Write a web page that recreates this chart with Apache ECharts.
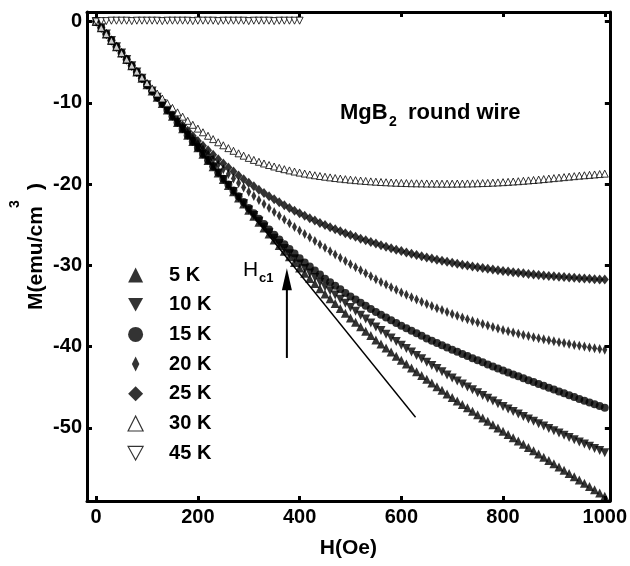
<!DOCTYPE html>
<html>
<head>
<meta charset="utf-8">
<script src="https://cdn.jsdelivr.net/npm/echarts@6/dist/echarts.min.js"></script>
<style>
html,body{margin:0;padding:0;background:#fff;}
#main{width:630px;height:566px;}
</style>
</head>
<body>
<div id="main"></div>
<script>
// ---- data (H in Oe, M in emu/cm^3) ----
const fieldOe = [0,10,20,30,40,50,60,70,80,90,100,110,120,130,140,150,160,170,180,190,200,
210,220,230,240,250,260,270,280,290,300,310,320,330,340,350,360,370,380,390,400,
410,420,430,440,450,460,470,480,490,500,510,520,530,540,550,560,570,580,590,600,
610,620,630,640,650,660,670,680,690,700,710,720,730,740,750,760,770,780,790,800,
810,820,830,840,850,860,870,880,890,900,910,920,930,940,950,960,970,980,990,1000];

const m5K = [0,-0.78,-1.55,-2.33,-3.11,-3.89,-4.66,-5.44,-6.22,-6.99,-7.77,
-8.55,-9.32,-10.10,-10.88,-11.66,-12.43,-13.21,-13.99,-14.76,-15.54,
-16.32,-17.09,-17.87,-18.65,-19.43,-20.19,-20.95,-21.71,-22.47,-23.23,
-23.96,-24.69,-25.42,-26.15,-26.88,-27.57,-28.26,-28.95,-29.64,-30.33,
-30.97,-31.61,-32.25,-32.89,-33.53,-34.12,-34.71,-35.30,-35.89,-36.48,
-37.02,-37.56,-38.10,-38.64,-39.18,-39.68,-40.18,-40.68,-41.18,-41.68,
-42.15,-42.62,-43.09,-43.56,-44.03,-44.48,-44.93,-45.38,-45.83,-46.28,
-46.70,-47.12,-47.54,-47.96,-48.38,-48.79,-49.20,-49.61,-50.02,-50.43,
-50.83,-51.23,-51.63,-52.03,-52.43,-52.83,-53.23,-53.63,-54.03,-54.43,
-54.83,-55.23,-55.63,-56.03,-56.43,-56.83,-57.23,-57.63,-58.03,-58.43];

const m10K = [0,-0.78,-1.55,-2.33,-3.11,-3.89,-4.66,-5.44,-6.22,-6.99,-7.77,
-8.55,-9.32,-10.10,-10.88,-11.66,-12.43,-13.21,-13.99,-14.76,-15.54,
-16.32,-17.09,-17.87,-18.65,-19.43,-20.18,-20.93,-21.68,-22.43,-23.18,
-23.88,-24.58,-25.28,-25.98,-26.68,-27.31,-27.94,-28.57,-29.20,-29.83,
-30.39,-30.95,-31.51,-32.07,-32.63,-33.14,-33.65,-34.16,-34.67,-35.18,
-35.66,-36.14,-36.62,-37.10,-37.58,-38.03,-38.48,-38.93,-39.38,-39.83,
-40.25,-40.67,-41.09,-41.51,-41.93,-42.32,-42.71,-43.10,-43.49,-43.88,
-44.24,-44.60,-44.96,-45.32,-45.68,-46.02,-46.35,-46.69,-47.02,-47.36,
-47.67,-47.98,-48.29,-48.60,-48.91,-49.20,-49.49,-49.78,-50.07,-50.36,
-50.64,-50.91,-51.19,-51.46,-51.74,-52.00,-52.27,-52.53,-52.80,-53.06];

const m15K = [0,-0.78,-1.55,-2.33,-3.11,-3.89,-4.66,-5.44,-6.22,-6.99,-7.77,
-8.55,-9.32,-10.10,-10.88,-11.66,-12.43,-13.21,-13.99,-14.76,-15.54,
-16.30,-17.06,-17.82,-18.58,-19.34,-20.06,-20.78,-21.50,-22.22,-22.94,
-23.60,-24.26,-24.92,-25.58,-26.24,-26.82,-27.40,-27.98,-28.56,-29.14,
-29.64,-30.14,-30.64,-31.14,-31.64,-32.08,-32.52,-32.96,-33.40,-33.84,
-34.22,-34.60,-34.98,-35.36,-35.74,-36.08,-36.42,-36.76,-37.10,-37.44,
-37.75,-38.06,-38.37,-38.68,-38.99,-39.27,-39.55,-39.83,-40.11,-40.39,
-40.65,-40.91,-41.17,-41.43,-41.69,-41.94,-42.19,-42.44,-42.69,-42.94,
-43.18,-43.42,-43.66,-43.90,-44.14,-44.37,-44.60,-44.83,-45.06,-45.29,
-45.52,-45.75,-45.98,-46.21,-46.44,-46.66,-46.88,-47.10,-47.32,-47.54];

const m20K = [0,-0.78,-1.55,-2.33,-3.11,-3.89,-4.66,-5.44,-6.22,-6.99,-7.77,
-8.55,-9.32,-10.08,-10.83,-11.57,-12.30,-13.01,-13.71,-14.39,-15.06,
-15.71,-16.35,-16.97,-17.58,-18.17,-18.75,-19.32,-19.87,-20.41,-20.94,
-21.46,-21.97,-22.47,-22.96,-23.44,-23.91,-24.37,-24.82,-25.27,-25.71,
-26.15,-26.58,-27.01,-27.43,-27.85,-28.26,-28.67,-29.07,-29.47,-29.86,
-30.24,-30.62,-30.99,-31.35,-31.70,-32.04,-32.37,-32.70,-33.02,-33.33,
-33.63,-33.92,-34.21,-34.49,-34.76,-35.02,-35.27,-35.51,-35.75,-35.98,
-36.20,-36.42,-36.63,-36.84,-37.04,-37.23,-37.42,-37.60,-37.78,-37.95,
-38.11,-38.27,-38.42,-38.57,-38.71,-38.84,-38.97,-39.10,-39.22,-39.34,
-39.46,-39.57,-39.68,-39.79,-39.90,-40.00,-40.10,-40.20,-40.30,-40.40];

const m25K = [0,-0.78,-1.55,-2.33,-3.11,-3.89,-4.66,-5.44,-6.22,-6.99,-7.76,
-8.52,-9.27,-10.01,-10.73,-11.44,-12.13,-12.80,-13.45,-14.08,-14.69,
-15.28,-15.85,-16.40,-16.94,-17.46,-17.97,-18.46,-18.94,-19.40,-19.85,
-20.28,-20.70,-21.11,-21.50,-21.88,-22.25,-22.61,-22.95,-23.28,-23.60,
-23.91,-24.21,-24.50,-24.78,-25.05,-25.31,-25.56,-25.81,-26.05,-26.28,
-26.50,-26.72,-26.93,-27.13,-27.33,-27.52,-27.71,-27.89,-28.07,-28.24,
-28.41,-28.57,-28.73,-28.88,-29.03,-29.17,-29.31,-29.44,-29.57,-29.69,
-29.81,-29.92,-30.03,-30.14,-30.24,-30.34,-30.43,-30.52,-30.61,-30.69,
-30.77,-30.85,-30.92,-30.99,-31.06,-31.12,-31.18,-31.24,-31.30,-31.35,
-31.40,-31.45,-31.50,-31.54,-31.58,-31.62,-31.66,-31.70,-31.73,-31.76];

const m30K = [0,-0.78,-1.55,-2.33,-3.11,-3.89,-4.66,-5.42,-6.16,-6.88,-7.57,
-8.23,-8.86,-9.47,-10.06,-10.63,-11.18,-11.71,-12.22,-12.71,-13.18,
-13.63,-14.06,-14.47,-14.86,-15.23,-15.58,-15.91,-16.22,-16.51,-16.78,
-17.03,-17.26,-17.47,-17.66,-17.84,-18.01,-18.17,-18.32,-18.46,-18.59,
-18.71,-18.82,-18.92,-19.01,-19.10,-19.18,-19.26,-19.33,-19.40,-19.46,
-19.52,-19.57,-19.62,-19.67,-19.71,-19.75,-19.78,-19.81,-19.84,-19.86,
-19.88,-19.90,-19.91,-19.92,-19.93,-19.94,-19.94,-19.95,-19.95,-19.95,
-19.94,-19.94,-19.93,-19.92,-19.90,-19.88,-19.86,-19.83,-19.80,-19.77,
-19.73,-19.69,-19.65,-19.60,-19.55,-19.50,-19.45,-19.39,-19.33,-19.27,
-19.21,-19.15,-19.09,-19.03,-18.97,-18.92,-18.87,-18.82,-18.77,-18.72];

// 45 K only measured up to 400 Oe
const m45K = [0,0.05,0.05,0.1,0.1,0.1,0.1,0.05,0.1,0.1,0.1,
0.1,0.1,0.05,0.1,0.1,0.1,0.1,0.1,0.05,0.1,
0.1,0.1,0.1,0.05,0.1,0.1,0.1,0.1,0.1,0.05,
0.1,0.1,0.1,0.1,0.05,0.1,0.1,0.1,0.1,0.1];

const seriesNames = ['5 K','10 K','15 K','20 K','25 K','30 K','45 K'];
const xTicks = [0,200,400,600,800,1000];
const yTicks = [0,-10,-20,-30,-40,-50];
// Meissner (full-screening) straight line and Hc1 arrow, in data units
const meissnerLine = [[0,0],[628,-48.7]];
const hc1Arrow = [[375,-41.4],[375,-31.7]];

// ---- chart ----
const FONT = "'Liberation Sans', Arial, Helvetica, sans-serif";
const downTri = 'path://M0,0L2,0L1,1.8Z';
const narrowDiamond = 'path://M1,0L2,2L1,4L0,2Z';
const pair = (vals) => vals.map((v, i) => [fieldOe[i], v]);

const solid = {color:'#000'};
const hollow = {color:'#fff', borderColor:'#000', borderWidth:1};

function sc(name, vals, symbol, size, style){
  return {type:'scatter', name, data: pair(vals), symbol, symbolSize:size,
    itemStyle: style, silent:true, z: 3};
}

const axisLine = {show:true, onZero:false, lineStyle:{color:'#000', width:3}};
const tickStyle = {color:'#000', width:3};
const labelStyle = {color:'#000', fontSize:20, fontWeight:'bold', fontFamily:FONT, formatter:(v)=>String(v)};

const option = {
  animation:false,
  backgroundColor:'#fff',
  textStyle:{fontFamily:FONT},
  grid:{left:87, right:18, top:12, bottom:65, containLabel:false},
  xAxis:[
    {type:'value', position:'bottom', min:-18, max:1010,
     axisLine, splitLine:{show:false},
     axisTick:{show:true, inside:true, length:5, lineStyle:tickStyle, customValues:xTicks},
     axisLabel:Object.assign({show:true, margin:6, customValues:xTicks}, labelStyle),
     name:'H(Oe)', nameLocation:'middle', nameGap:37,
     nameTextStyle:{color:'#000', fontSize:21, fontWeight:'bold', fontFamily:FONT}},
    {type:'value', position:'top', min:-18, max:1010,
     axisLine, splitLine:{show:false},
     axisTick:{show:true, inside:true, length:5, lineStyle:tickStyle, customValues:xTicks},
     axisLabel:{show:false}}
  ],
  yAxis:[
    {type:'value', position:'left', min:-59, max:1.17,
     axisLine, splitLine:{show:false},
     axisTick:{show:true, inside:true, length:5, lineStyle:tickStyle, customValues:yTicks},
     axisLabel:Object.assign({show:true, margin:5, customValues:yTicks}, labelStyle)},
    {type:'value', position:'right', min:-59, max:1.17,
     axisLine, splitLine:{show:false},
     axisTick:{show:true, inside:true, length:5, lineStyle:tickStyle, customValues:yTicks},
     axisLabel:{show:false}}
  ],
  legend:{
    orient:'vertical', left:127.5, top:265, padding:0,
    itemWidth:15, itemHeight:15, itemGap:9.7, symbolKeepAspect:true,
    selectedMode:false,
    textStyle:{color:'#000', fontSize:20, fontWeight:'bold', fontFamily:FONT, lineHeight:20, padding:[0,0,0,21]},
    data:[
      {name:'5 K', icon:'triangle', itemStyle:{color:'#000', borderWidth:0}},
      {name:'10 K', icon:downTri, itemStyle:{color:'#000', borderWidth:0}},
      {name:'15 K', icon:'circle', itemStyle:{color:'#000', borderWidth:0}},
      {name:'20 K', icon:narrowDiamond, itemStyle:{color:'#000', borderWidth:0}},
      {name:'25 K', icon:'diamond', itemStyle:{color:'#000', borderWidth:0}},
      {name:'30 K', icon:'triangle', itemStyle:{color:'#fff', borderColor:'#000', borderWidth:1.2}},
      {name:'45 K', icon:downTri, itemStyle:{color:'#fff', borderColor:'#000', borderWidth:1.2}}
    ]
  },
  series:[
    {type:'line', data:meissnerLine, symbol:'none', silent:true, z:2,
     lineStyle:{color:'#000', width:1.4}},
    {type:'line', silent:true, z:2, symbol:'none',
     data:[hc1Arrow[0], {value:hc1Arrow[1], symbol:'triangle', symbolSize:[10,22]}],
     itemStyle:{color:'#000'}, lineStyle:{color:'#000', width:2}},
    sc(seriesNames[0], m5K, 'triangle', [9,9], solid),
    sc(seriesNames[1], m10K, downTri, [9,9], solid),
    sc(seriesNames[2], m15K, 'circle', 8, solid),
    sc(seriesNames[3], m20K, 'diamond', [5,10], solid),
    sc(seriesNames[4], m25K, 'diamond', [8,10], solid),
    sc(seriesNames[5], m30K, 'triangle', [7,7], hollow),
    {type:'scatter', name:seriesNames[6], data:m45K.map((v,i)=>[fieldOe[i], v]),
     symbol:downTri, symbolSize:[7,7], itemStyle:hollow, silent:true, z:3}
  ],
  graphic:[
    {type:'text', x:340, y:113, style:{text:'MgB', font:'bold 22px '+FONT, fill:'#000', textAlign:'left', textVerticalAlign:'middle', align:'left', verticalAlign:'middle'}},
    {type:'text', x:389, y:122, style:{text:'2', font:'bold 14px '+FONT, fill:'#000', textAlign:'left', textVerticalAlign:'middle', align:'left', verticalAlign:'middle'}},
    {type:'text', x:408, y:113, style:{text:'round wire', font:'bold 22px '+FONT, fill:'#000', textAlign:'left', textVerticalAlign:'middle', align:'left', verticalAlign:'middle'}},
    {type:'text', x:243, y:270, style:{text:'H', font:'21px '+FONT, fill:'#000', textAlign:'left', textVerticalAlign:'middle', align:'left', verticalAlign:'middle'}},
    {type:'text', x:259, y:278, style:{text:'c1', font:'bold 13px '+FONT, fill:'#000', textAlign:'left', textVerticalAlign:'middle', align:'left', verticalAlign:'middle'}},
    {type:'group', x:36, y:310, rotation:Math.PI/2, children:[
      {type:'text', x:0, y:0, style:{text:'M(emu/cm', font:'bold 21px '+FONT, fill:'#000', textAlign:'left', textVerticalAlign:'middle', align:'left', verticalAlign:'middle'}},
      {type:'text', x:106, y:-21, style:{text:'3', font:'bold 14px '+FONT, fill:'#000', textAlign:'center', textVerticalAlign:'middle', align:'center', verticalAlign:'middle'}},
      {type:'text', x:120, y:0, style:{text:')', font:'bold 21px '+FONT, fill:'#000', textAlign:'left', textVerticalAlign:'middle', align:'left', verticalAlign:'middle'}}
    ]}
  ]
};

const chart = echarts.init(document.getElementById('main'), null, {renderer:'canvas'});
chart.setOption(option);
</script>
</body>
</html>
